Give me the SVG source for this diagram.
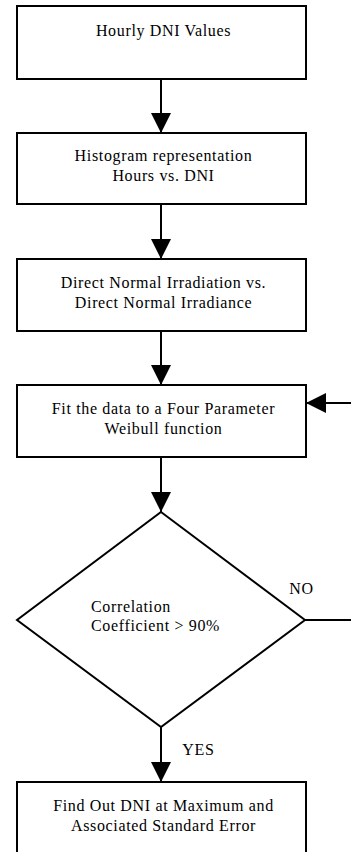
<svg xmlns="http://www.w3.org/2000/svg" width="351" height="852" viewBox="0 0 351 852">
<style>
.box{fill:#fff;stroke:#000;stroke-width:2}
.ln{fill:none;stroke:#000;stroke-width:2}
.t{font-family:'Liberation Serif','Times New Roman',Times,'DejaVu Serif',serif;font-size:16px;letter-spacing:0.65px;fill:#000}
.c{text-anchor:middle}
</style>
<defs>
<marker id="ah" markerUnits="userSpaceOnUse" markerWidth="20" markerHeight="20" viewBox="0 0 20 20" refX="20" refY="10" orient="auto">
<path d="M0,0 L20,10 L0,20 Z" fill="#000"/>
</marker>
</defs>
<rect width="351" height="852" fill="#fff"/>
<g id="connectors">
<line class="ln" x1="161" y1="79" x2="161" y2="133" marker-end="url(#ah)"/>
<line class="ln" x1="161" y1="204" x2="161" y2="259" marker-end="url(#ah)"/>
<line class="ln" x1="161" y1="331" x2="161" y2="385" marker-end="url(#ah)"/>
<line class="ln" x1="161" y1="457" x2="161" y2="512" marker-end="url(#ah)"/>
<line class="ln" x1="161" y1="727" x2="161" y2="782" marker-end="url(#ah)"/>
<polyline class="ln" points="305,620 351,620"/>
<line class="ln" x1="351" y1="403" x2="306" y2="403" marker-end="url(#ah)"/>
<text class="t" x="289.3" y="593.5">NO</text>
<text class="t" x="182.3" y="755">YES</text>
</g>
<g id="n1">
<rect class="box" x="17" y="6" width="289" height="73"/>
<text class="t c" x="163.5" y="35.5">Hourly DNI Values</text>
</g>
<g id="n2">
<rect class="box" x="17" y="133" width="289" height="71"/>
<text class="t c" x="163.5" y="161">Histogram representation</text>
<text class="t c" x="163.5" y="181">Hours vs. DNI</text>
</g>
<g id="n3">
<rect class="box" x="17" y="259" width="289" height="72"/>
<text class="t c" x="163.5" y="287.7">Direct Normal Irradiation vs.</text>
<text class="t c" x="163.5" y="307.5">Direct Normal Irradiance</text>
</g>
<g id="n4">
<rect class="box" x="17" y="385" width="289" height="72"/>
<text class="t c" x="163.5" y="414.3">Fit the data to a Four Parameter</text>
<text class="t c" x="163.5" y="434.3">Weibull function</text>
</g>
<g id="n5">
<polygon class="box" points="161,512 305,620 161,727 17,620"/>
<text class="t" x="91" y="611.7">Correlation</text>
<text class="t" x="91" y="631">Coefficient &gt; 90%</text>
</g>
<g id="n6">
<rect class="box" x="17" y="782" width="289" height="80"/>
<text class="t c" x="163.5" y="810.7">Find Out DNI at Maximum and</text>
<text class="t c" x="163.5" y="831">Associated Standard Error</text>
</g>
</svg>
